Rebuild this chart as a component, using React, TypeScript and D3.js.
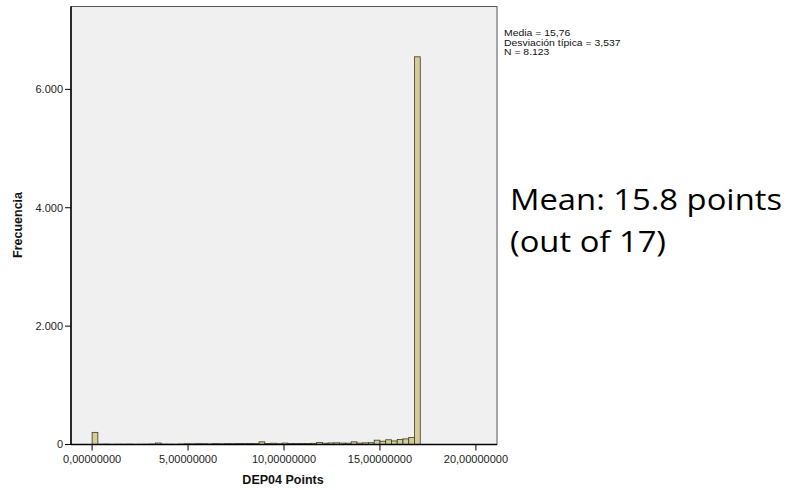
import React, { useEffect, useRef } from "react";
import * as d3 from "d3";

// histogram bins of DEP04 Points, width 0.3 starting at 0
const binWidth = 0.3;
const counts = [
  205, 4, 6, 3, 5, 4, 6, 3, 4, 5,
  8, 25, 6, 5, 4, 8, 12, 10, 14, 12,
  10, 14, 12, 14, 13, 15, 16, 18, 14, 45,
  16, 22, 12, 24, 18, 16, 18, 16, 20, 35,
  22, 26, 28, 24, 22, 45, 24, 28, 30, 73,
  55, 80, 60, 85, 95, 120, 6550,
];

const yTicks = [0, 2000, 4000, 6000];
const yTickLabels = ["0", "2.000", "4.000", "6.000"];
const xTicks = [0, 5, 10, 15, 20];
const xTickLabels = ["0,00000000", "5,00000000", "10,00000000", "15,00000000", "20,00000000"];

const statsLines = ["Media = 15,76", "Desviación típica = 3,537", "N = 8.123"];
const noteLines = ["Mean: 15.8 points", "(out of 17)"];

const App = () => {
  const ref = useRef<SVGSVGElement>(null);

  useEffect(() => {
    const svg = d3.select(ref.current);
    svg.selectAll("*").remove();

    const left = 71, right = 497, top = 6.5, bottom = 444.5;
    const x = d3.scaleLinear().domain([-1.1, 21.1]).range([left, right]);
    const y = d3.scaleLinear().domain([0, 7400]).range([bottom, top]);

    svg
      .append("rect")
      .attr("x", left)
      .attr("y", top)
      .attr("width", right - left)
      .attr("height", bottom - top)
      .attr("fill", "#f0f0f0")
      .attr("stroke", "#555")
      .attr("stroke-width", 1);

    svg
      .selectAll(".bar")
      .data(counts)
      .enter()
      .append("rect")
      .attr("x", (_, i) => x(i * binWidth))
      .attr("y", (d) => y(d))
      .attr("width", x(binWidth) - x(0))
      .attr("height", (d) => bottom - y(d))
      .attr("fill", "#d3cd97")
      .attr("stroke", "#3a3a2a")
      .attr("stroke-width", 0.8);

    const font = "Arial, 'Liberation Sans', sans-serif";

    // y axis
    const yAxis = svg.append("g").attr("transform", `translate(${left},0)`);
    yAxis.append("line").attr("x1", 0).attr("x2", 0).attr("y1", top).attr("y2", bottom).attr("stroke", "#000").attr("stroke-width", 1.5);
    yTicks.forEach((t, i) => {
      yAxis.append("line").attr("x1", -6).attr("x2", 0).attr("y1", y(t)).attr("y2", y(t)).attr("stroke", "#000");
      yAxis
        .append("text")
        .attr("x", -8)
        .attr("y", y(t))
        .attr("dy", "0.35em")
        .attr("text-anchor", "end")
        .attr("font-family", font)
        .attr("font-size", 11)
        .attr("fill", "#222")
        .text(yTickLabels[i]);
    });

    // x axis
    const xAxis = svg.append("g").attr("transform", `translate(0,${bottom})`);
    xAxis.append("line").attr("x1", left).attr("x2", right).attr("y1", 0).attr("y2", 0).attr("stroke", "#000").attr("stroke-width", 1.5);
    xTicks.forEach((t, i) => {
      xAxis.append("line").attr("x1", x(t)).attr("x2", x(t)).attr("y1", 0).attr("y2", 6).attr("stroke", "#000");
      xAxis
        .append("text")
        .attr("x", x(t))
        .attr("y", 18)
        .attr("text-anchor", "middle")
        .attr("font-family", font)
        .attr("font-size", 11)
        .attr("fill", "#222")
        .text(xTickLabels[i]);
    });

    svg
      .append("text")
      .attr("x", 283)
      .attr("y", 484)
      .attr("text-anchor", "middle")
      .attr("font-family", font)
      .attr("font-size", 12.5)
      .attr("font-weight", "bold")
      .attr("fill", "#111")
      .text("DEP04 Points");

    svg
      .append("text")
      .attr("transform", `translate(22,225) rotate(-90)`)
      .attr("text-anchor", "middle")
      .attr("font-family", font)
      .attr("font-size", 12.5)
      .attr("font-weight", "bold")
      .attr("fill", "#111")
      .text("Frecuencia");

    // statistics box text, slightly stretched like the SPSS output
    svg
      .selectAll(".stat")
      .data(statsLines)
      .enter()
      .append("text")
      .attr("transform", (_, i) => `translate(504,${36 + i * 9.5}) scale(1.27,1)`)
      .attr("font-family", font)
      .attr("font-size", 8.2)
      .attr("fill", "#111")
      .text((d) => d);

    svg
      .selectAll(".note")
      .data(noteLines)
      .enter()
      .append("text")
      .attr("transform", (_, i) => `translate(510,${210 + i * 41.5}) scale(1.13,1)`)
      .attr("font-family", "'Open Sans', Lato, sans-serif")
      .attr("font-size", 29)
      .attr("fill", "#000")
      .text((d) => d);
  }, []);

  return (
    <svg
      ref={ref}
      width={789}
      height={490}
      style={{ position: "absolute", left: 0, top: 0, background: "#fff" }}
    />
  );
};

export default App;
